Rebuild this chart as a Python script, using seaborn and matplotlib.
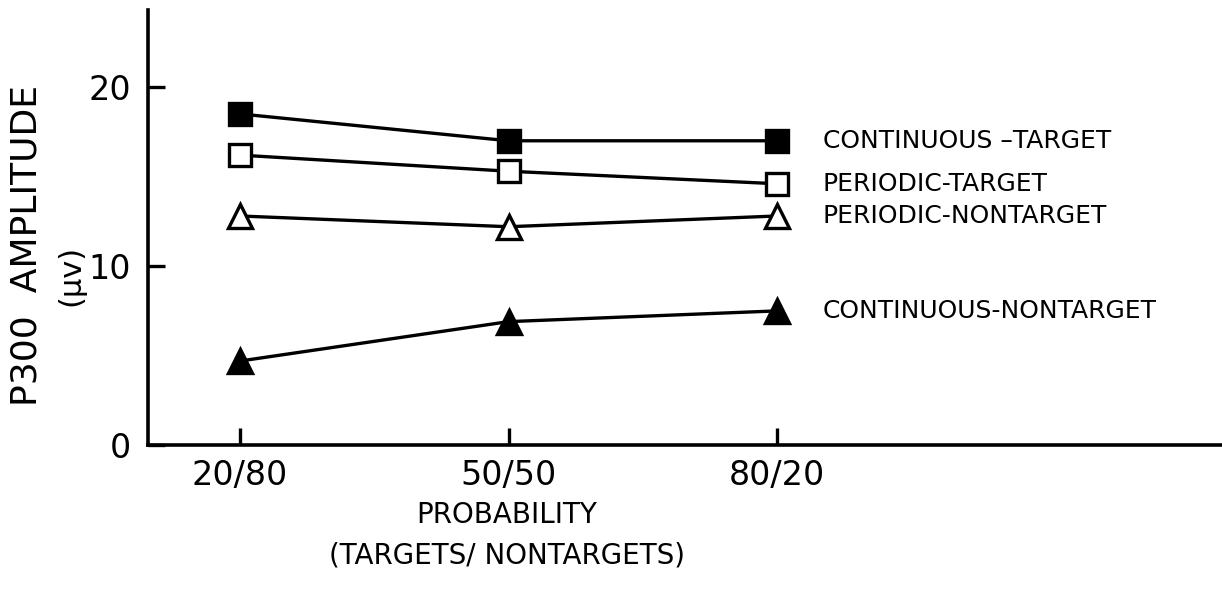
import matplotlib
matplotlib.use("Agg")
import matplotlib.pyplot as plt
import seaborn as sns
import pandas as pd

# data
probability = ["20/80", "50/50", "80/20"]
continuous_target = [18.5, 17.0, 17.0]
periodic_target = [16.2, 15.3, 14.6]
periodic_nontarget = [12.8, 12.2, 12.8]
continuous_nontarget = [4.7, 6.9, 7.5]

series_names = ["CONTINUOUS \u2013TARGET", "PERIODIC-TARGET",
                "PERIODIC-NONTARGET", "CONTINUOUS-NONTARGET"]
series_values = [continuous_target, periodic_target,
                 periodic_nontarget, continuous_nontarget]
markers = ["s", "s", "^", "^"]
filled = [True, False, False, True]

sns.set_style("ticks")
plt.rcParams["font.family"] = ["DejaVu Sans"]
plt.rcParams["text.color"] = "black"
plt.rcParams["axes.edgecolor"] = "black"
plt.rcParams["xtick.color"] = "black"
plt.rcParams["ytick.color"] = "black"

fig = plt.figure(figsize=(12.22, 5.92), dpi=100)
ax = fig.add_axes([0.121, 0.248, 0.879, 0.735])

xpos = list(range(len(probability)))
for name, vals, m, f in zip(series_names, series_values, markers, filled):
    df = pd.DataFrame({"x": xpos, "y": vals})
    sns.lineplot(data=df, x="x", y="y", ax=ax, color="black", linewidth=2.4,
                 marker=m, markersize=16 if m == "s" else 17,
                 markerfacecolor="black" if f else "white",
                 markeredgecolor="black", markeredgewidth=2.4)
    ax.text(2.17, vals[-1], name, fontsize=18, va="center", ha="left")

ax.set_xlim(-0.343, 3.657)
ax.set_ylim(0, 24.3)
ax.set_xticks(xpos)
ax.set_xticklabels(probability, fontsize=24)
ax.set_yticks([0, 10, 20])
ax.set_yticklabels(["0", "10", "20"], fontsize=24)
ax.tick_params(axis="both", direction="in", length=12, width=2.4, pad=12)
ax.tick_params(axis="x", pad=10)

for s in ["top", "right"]:
    ax.spines[s].set_visible(False)
for s in ["left", "bottom"]:
    ax.spines[s].set_linewidth(2.6)

ax.set_xlabel("")
ax.set_ylabel("")
fig.text(0.415, 0.13, "PROBABILITY", fontsize=20, ha="center", va="center")
fig.text(0.415, 0.062, "(TARGETS/ NONTARGETS)", fontsize=20, ha="center", va="center")
fig.text(0.022, 0.586, "P300  AMPLITUDE", fontsize=26, rotation=90,
         ha="center", va="center")
fig.text(0.058, 0.535, "(\u03bcv)", fontsize=22, rotation=90,
         ha="center", va="center")

fig.savefig("out.png", dpi=100)
